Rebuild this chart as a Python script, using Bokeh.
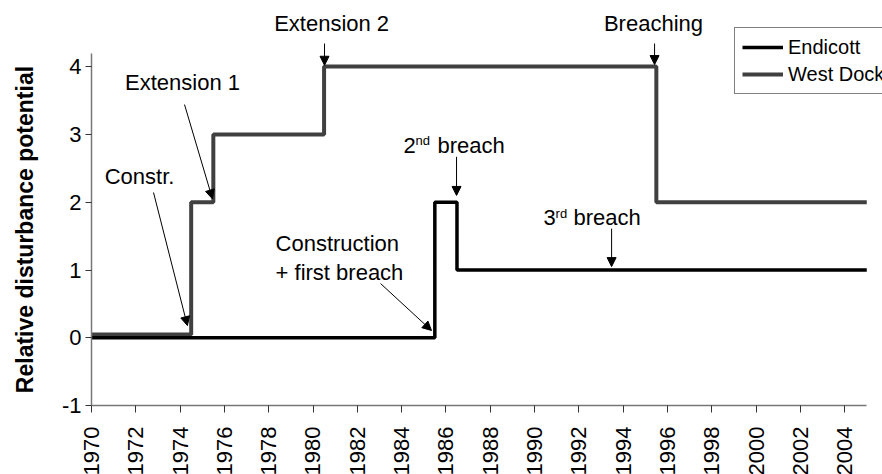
from bokeh.plotting import figure
from bokeh.models import (ColumnDataSource, FixedTicker, Range1d, Legend, LegendItem,
                          Arrow, NormalHead)
from bokeh.core.properties import value
from bokeh.embed import file_html
from bokeh.resources import INLINE

# ---- data ----
endicott_x = [1970, 1985.5, 1986.5, 2005]
endicott_y = [0, 2, 1, 1]
westdock_x = [1970, 1974.5, 1975.5, 1980.5, 1995.5, 2005]
westdock_y = [0.05, 2, 3, 4, 2, 2]

x_ticks = [1970, 1972, 1974, 1976, 1978, 1980, 1982, 1984, 1986, 1988,
           1990, 1992, 1994, 1996, 1998, 2000, 2002, 2004]
x_tick_labels = ["1970", "1972", "1974", "1976", "1978", "1980", "1982", "1984", "1986",
                 "1988", "1990", "1992", "1994", "1996", "1998", "2000", "2002", "2004"]
y_ticks = [-1, 0, 1, 2, 3, 4]
y_tick_labels = ["-1", "0", "1", "2", "3", "4"]
y_title = "Relative disturbance potential"

# annotation texts (centres)
ann_text = ["Extension 2", "Breaching", "Extension 1", "Constr.", "Construction",
            "+ first breach", "2", "breach", "3", "breach"]
ann_x = [1980.84, 1995.37, 1974.11, 1972.17, 1978.31, 1978.31, 1984.09, 1985.62, 1990.41, 1991.76]
ann_y = [4.636, 4.636, 3.765, 2.379, 1.391, 0.963, 2.836, 2.836, 1.774, 1.774]
ann_align = ["center", "center", "center", "center", "left", "left", "left", "left", "left", "left"]

sup_text = ["nd", "rd"]
sup_x = [1984.63, 1990.95]
sup_y = [2.91, 1.833]

arrow_x0 = [1980.52, 1995.42, 1974.20, 1972.80, 1983.05, 1986.48, 1993.48]
arrow_y0 = [4.34, 4.34, 3.44, 2.143, 0.80, 2.67, 1.61]
arrow_x1 = [1980.52, 1995.42, 1975.46, 1974.33, 1985.35, 1986.48, 1993.48]
arrow_y1 = [4.02, 4.03, 2.05, 0.18, 0.108, 2.10, 1.05]

FONT = "Liberation Sans"

p = figure(width=882, height=474, output_backend="svg", toolbar_location=None,
           x_range=Range1d(1965.892, 2005.71), y_range=Range1d(-2.016, 4.975),
           min_border=0, min_border_left=0, min_border_right=0,
           min_border_top=0, min_border_bottom=0)
p.outline_line_color = None
p.xgrid.visible = False
p.ygrid.visible = False
p.background_fill_color = "white"
p.border_fill_color = "white"

r_wd = p.step(westdock_x, westdock_y, mode="after", line_color="#404040", line_width=4)
r_end = p.step(endicott_x, endicott_y, mode="after", line_color="#000000", line_width=3.5)

# axes, fixed at the data origin of the chart
xa = p.xaxis[0]
xa.fixed_location = -1
xa.ticker = FixedTicker(ticks=x_ticks)
xa.major_label_overrides = {t: l for t, l in zip(x_ticks, x_tick_labels)}
xa.bounds = (1970, 2005)
xa.major_label_orientation = 1.5707963
xa.major_label_text_font = FONT
xa.major_label_text_font_size = "22px"
xa.major_label_text_color = "black"
xa.major_label_standoff = 14
xa.major_tick_in = 0
xa.major_tick_out = 7
xa.minor_tick_line_color = None
xa.axis_line_color = "#777777"
xa.axis_line_width = 1.5
xa.major_tick_line_color = "#333333"

ya = p.yaxis[0]
ya.fixed_location = 1970
ya.ticker = FixedTicker(ticks=y_ticks)
ya.major_label_overrides = {t: l for t, l in zip(y_ticks, y_tick_labels)}
ya.bounds = (-1, 4.2)
ya.major_label_text_font = FONT
ya.major_label_text_font_size = "22px"
ya.major_label_text_color = "black"
ya.major_label_standoff = 4
ya.major_tick_in = 0
ya.major_tick_out = 6
ya.minor_tick_line_color = None
ya.axis_line_color = "#777777"
ya.axis_line_width = 1.5
ya.major_tick_line_color = "#333333"

# y axis title (inside the full-canvas frame)
p.text(x=[1966.98], y=[1.597], text=[y_title], angle=1.5707963,
       text_align="center", text_baseline="middle", text_font=value(FONT),
       text_font_size="23px", text_font_style="bold", text_color="black")

# annotations
src = ColumnDataSource(dict(x=ann_x, y=ann_y, text=ann_text, align=ann_align))
p.text(x="x", y="y", text="text", source=src, text_align="align",
       text_baseline="middle", text_font=value(FONT), text_font_size="22px",
       text_color="black")
ssrc = ColumnDataSource(dict(x=sup_x, y=sup_y, text=sup_text))
p.text(x="x", y="y", text="text", source=ssrc, text_align="left",
       text_baseline="middle", text_font=value(FONT), text_font_size="13px",
       text_color="black")

for x0, y0, x1, y1 in zip(arrow_x0, arrow_y0, arrow_x1, arrow_y1):
    p.add_layout(Arrow(end=NormalHead(size=9, fill_color="black", line_color="black",
                                      line_width=1),
                       x_start=x0, y_start=y0, x_end=x1, y_end=y1,
                       line_color="black", line_width=1))

legend = Legend(items=[LegendItem(label="Endicott", renderers=[r_end]),
                       LegendItem(label="West Dock", renderers=[r_wd])],
                location=(734, 380))
legend.label_text_font = FONT
legend.label_text_font_size = "20px"
legend.label_text_color = "black"
legend.glyph_width = 41
legend.glyph_height = 24
legend.label_height = 24
legend.label_standoff = 5
legend.spacing = 3
legend.padding = 7
legend.margin = 0
legend.border_line_color = "#000000"
legend.border_line_width = 1
legend.background_fill_color = "white"
legend.background_fill_alpha = 1
p.add_layout(legend)

open("out.html", "w").write(file_html(p, INLINE))
